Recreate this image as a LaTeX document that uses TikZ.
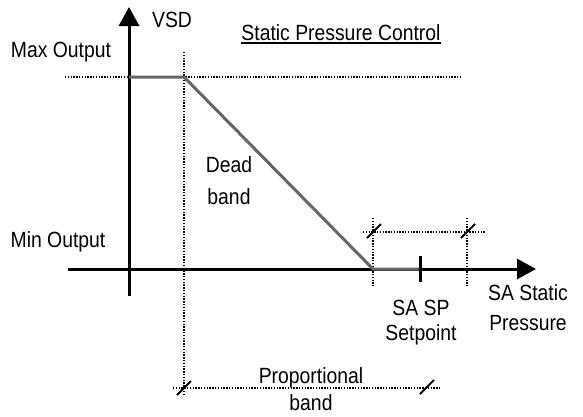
\documentclass[tikz,border=0pt]{standalone}
\usepackage{fontspec}
\setmainfont[FakeStretch=0.88]{Liberation Sans}
\usetikzlibrary{arrows.meta}
\begin{document}
\begin{tikzpicture}[x=1pt,y=-1pt,
  axis/.style={line width=3pt,-{Triangle[length=19pt,width=20pt]}},
  dots/.style={line width=2.4pt,dash pattern=on 1.4pt off 1.4pt},
  curve/.style={line width=3pt,draw=black!60},
  slash/.style={line width=2pt},
  lbl/.style={font=\fontsize{22}{30}\selectfont,inner sep=0pt,anchor=base,align=center}]
\useasboundingbox (0,0) rectangle (583,416);
% coordinates
\coordinate (ybot) at (129,296);
\coordinate (ytop) at (129,7);
\coordinate (xl) at (68,269);
\coordinate (xr) at (536,269);
\coordinate (maxl) at (65,77);
\coordinate (maxr) at (460,77);
\coordinate (v1t) at (184,52);
\coordinate (v1b) at (184,396);
\coordinate (v2t) at (373,218);
\coordinate (v2b) at (373,286);
\coordinate (v3t) at (467,218);
\coordinate (v3b) at (467,286);
\coordinate (hdl) at (363,232);
\coordinate (hdr) at (485,232);
\coordinate (pbl) at (173,388);
\coordinate (pbr) at (440,388);
\coordinate (p0) at (129,77);
\coordinate (p1) at (184,77);
\coordinate (p2) at (373,269);
\coordinate (p3) at (420,269);
\coordinate (tickt) at (420,256);
\coordinate (tickb) at (420,282);
% dotted guides
\draw[dots] (maxl) -- (maxr);
\draw[dots] (v1t) -- (v1b);
\draw[dots] (v2t) -- (v2b);
\draw[dots] (v3t) -- (v3b);
\draw[dots] (hdl) -- (hdr);
\draw[dots] (pbl) -- (pbr);
% slashes
\draw[slash] (367,238) -- (381,224);
\draw[slash] (461,238) -- (475,224);
\draw[slash] (177,395) -- (191,381);
\draw[slash] (420,394) -- (434,380);
% axes
\draw[axis] (ybot) -- (ytop);
\draw[axis] (xl) -- (xr);
% control curve
\draw[curve] (p0) -- (p1) -- (p2) -- (p3);
\draw[line width=3pt] (tickt) -- (tickb);
% labels
\node[lbl] (vsd) at (172,27) {VSD};
\node[lbl] (title) at (341,40) {Static Pressure Control};
\draw[line width=1.5pt] ([yshift=-3pt]title.base west) -- ([yshift=-3pt]title.base east);
\node[lbl] (maxo) at (61,57) {Max Output};
\node[lbl] (mino) at (58,247) {Min Output};
\node[lbl,font=\fontsize{22}{32}\selectfont] (dead) at (229,204) {Dead\\band};
\node[lbl,font=\fontsize{22}{25}\selectfont] (sasp) at (421,340) {SA SP\\Setpoint};
\node[lbl,font=\fontsize{22}{30}\selectfont] (sast) at (528,330) {SA Static\\Pressure};
\node[lbl,font=\fontsize{22}{27}\selectfont] (prop) at (311,410) {Proportional\\band};
\end{tikzpicture}
\end{document}
